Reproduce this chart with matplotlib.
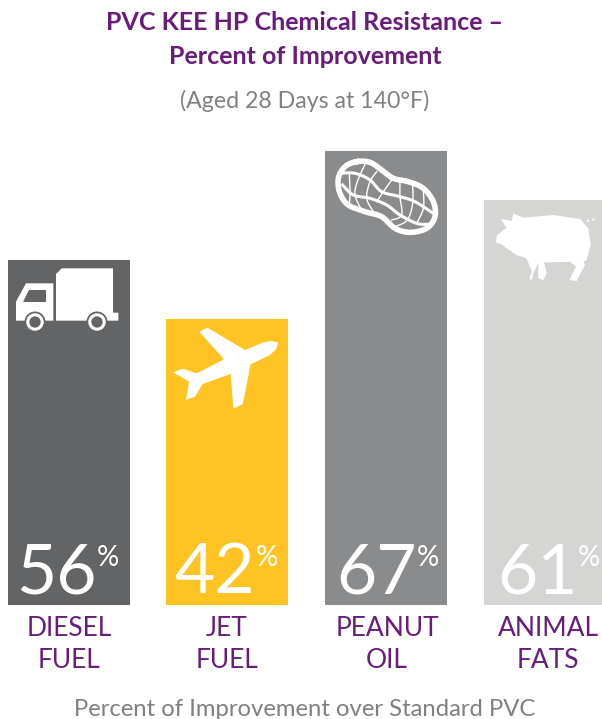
import matplotlib
matplotlib.use('Agg')
import matplotlib.pyplot as plt
import numpy as np
from matplotlib.patches import Polygon, Circle

categories = ['DIESEL\nFUEL', 'JET\nFUEL', 'PEANUT\nOIL', 'ANIMAL\nFATS']
percent = [56, 42, 67, 61]
# the printed bars are not to scale with the percentages, heights read off the picture
bar_heights = [345, 286, 454, 405]
bar_colors = ['#636466', '#FFC423', '#8A8B8D', '#D5D5D3']

PURPLE = '#6A1B7C'
GREY = '#808080'
FONT = ['Lato', 'DejaVu Sans']

# icon outlines, in zoomed crop pixels
truck_box = [(168, 72), (185, 55), (339, 55), (339, 188), (355, 188), (355, 212), (168, 212)]
truck_cab = [(48, 155), (78, 100), (160, 100), (160, 212), (48, 212)]
truck_window = [(88, 120), (138, 120), (138, 155), (70, 155)]
plane = [(598, 245), (622, 233), (735, 300), (790, 277), (815, 273), (835, 278), (828, 298),
         (808, 316), (752, 343), (728, 463), (700, 476), (692, 372), (608, 402), (585, 440),
         (558, 450), (567, 395), (520, 367), (548, 356), (590, 370), (672, 328)]
pig = [(543, 222), (575, 228), (580, 205), (610, 218), (700, 210), (780, 222), (805, 250),
       (812, 300), (800, 345), (790, 350), (795, 360), (770, 408), (748, 405), (768, 365),
       (750, 350), (690, 352), (672, 352), (680, 385), (670, 405), (655, 400), (655, 352),
       (640, 385), (635, 405), (628, 402), (635, 380), (620, 340), (590, 330), (560, 310),
       (545, 298), (528, 292), (530, 272), (550, 255), (560, 250)]
peanut = [(110, 50), (150, 52), (185, 75), (220, 100), (265, 110), (310, 130), (340, 170),
          (345, 215), (320, 250), (270, 262), (225, 250), (185, 215), (135, 200), (85, 180),
          (60, 145), (55, 100), (75, 65)]
peanut_thick = [[(58, 85), (105, 85), (150, 105), (185, 140), (240, 155), (285, 170), (340, 205)],
                [(68, 120), (100, 150), (150, 160), (200, 180), (240, 210), (290, 235), (330, 238)]]
peanut_thin = [[(135, 58), (112, 110), (105, 150), (122, 190)],
               [(170, 80), (150, 110), (140, 160), (160, 200)],
               [(215, 105), (190, 140), (170, 170)],
               [(240, 112), (240, 155), (245, 210), (215, 225)],
               [(278, 120), (278, 175), (262, 225), (225, 245)],
               [(310, 135), (310, 190), (290, 235)],
               [(88, 85), (90, 145), (88, 180)]]


def crop(pts, ox, oy):
    return [(ox + x / 3, oy + y / 3) for x, y in pts]


def smooth(pts, closed=False):
    # catmull-rom through the outline points
    p = np.array(pts, dtype=float)
    if closed:
        p = np.vstack([p[-1], p, p[0], p[1]])
    else:
        p = np.vstack([p[0], p, p[-1]])
    out = []
    for i in range(1, len(p) - 2):
        for t in np.linspace(0, 1, 12, endpoint=False):
            out.append(0.5 * (2 * p[i] + (p[i + 1] - p[i - 1]) * t
                              + (2 * p[i - 1] - 5 * p[i] + 4 * p[i + 1] - p[i + 2]) * t ** 2
                              + (3 * p[i] - p[i - 1] - 3 * p[i + 1] + p[i + 2]) * t ** 3))
    out.append(p[-2])
    return np.array(out)


fig = plt.figure(figsize=(6.02, 7.19), dpi=100)

ax = fig.add_axes([0, 0, 1, 1])
centers = [69, 227, 386, 545]
ax.bar(centers, bar_heights, width=122, color=bar_colors)
ax.set_xlim(0, 602)
ax.set_ylim(-114, 605)
ax.axis('off')

# overlay in image pixels for text and icons
ov = fig.add_axes([0, 0, 1, 1], zorder=2)
ov.set_xlim(0, 602)
ov.set_ylim(719, 0)
ov.axis('off')

ov.text(305, 23, 'PVC KEE HP Chemical Resistance –', color=PURPLE, fontsize=18, fontweight='bold',
        ha='center', va='center', family=FONT)
ov.text(305, 57, 'Percent of Improvement', color=PURPLE, fontsize=18, fontweight='bold',
        ha='center', va='center', family=FONT)
ov.text(305, 101, '(Aged 28 Days at 140°F)', color=GREY, fontsize=16.7,
        ha='center', va='center', family=FONT)
ov.text(305, 709, 'Percent of Improvement over Standard PVC', color=GREY, fontsize=17.2,
        ha='center', va='center', family=FONT)

num_x = [16, 174, 336, 497]
pct_x = [97, 256, 417, 578]
label_x = [69, 227, 387, 548]
for i, v in enumerate(percent):
    ov.text(num_x[i], 593, str(v), color='white', fontsize=50,
            ha='left', va='baseline', family=FONT)
    ov.text(pct_x[i], 566, '%', color='white', fontsize=20,
            ha='left', va='baseline', family=FONT)
    line1, line2 = categories[i].split('\n')
    ov.text(label_x[i], 629, line1, color=PURPLE, fontsize=19, ha='center', va='center', family=FONT)
    ov.text(label_x[i], 661, line2, color=PURPLE, fontsize=19, ha='center', va='center', family=FONT)

# truck
for shape in (truck_box, truck_cab):
    ov.add_patch(Polygon(crop(shape, 0, 250), fc='white', ec='none'))
ov.add_patch(Polygon(crop(truck_window, 0, 250), fc=bar_colors[0], ec='none'))
for cx in (35, 97):
    ov.add_patch(Circle((cx, 322), 10.5, fc=bar_colors[0], ec='none'))
    ov.add_patch(Circle((cx, 322), 7.2, fc=bar_colors[0], ec='white', lw=2.2))

# plane
ov.add_patch(Polygon(crop(plane, 0, 250), fc='white', ec='none'))

# peanut
line = smooth(crop(peanut, 320, 145), closed=True)
ov.plot(line[:, 0], line[:, 1], color='white', lw=4)
for seg in peanut_thick:
    s = smooth(crop(seg, 320, 145))
    ov.plot(s[:, 0], s[:, 1], color='white', lw=2.2)
for seg in peanut_thin:
    s = smooth(crop(seg, 320, 145))
    ov.plot(s[:, 0], s[:, 1], color='white', lw=1.0)

# pig
ov.add_patch(Polygon(crop(pig, 320, 145), fc='white', ec='none'))
ov.plot([587, 595], [221, 219], color='white', lw=1.5, ls=':')

fig.savefig('out.png', dpi=100)
